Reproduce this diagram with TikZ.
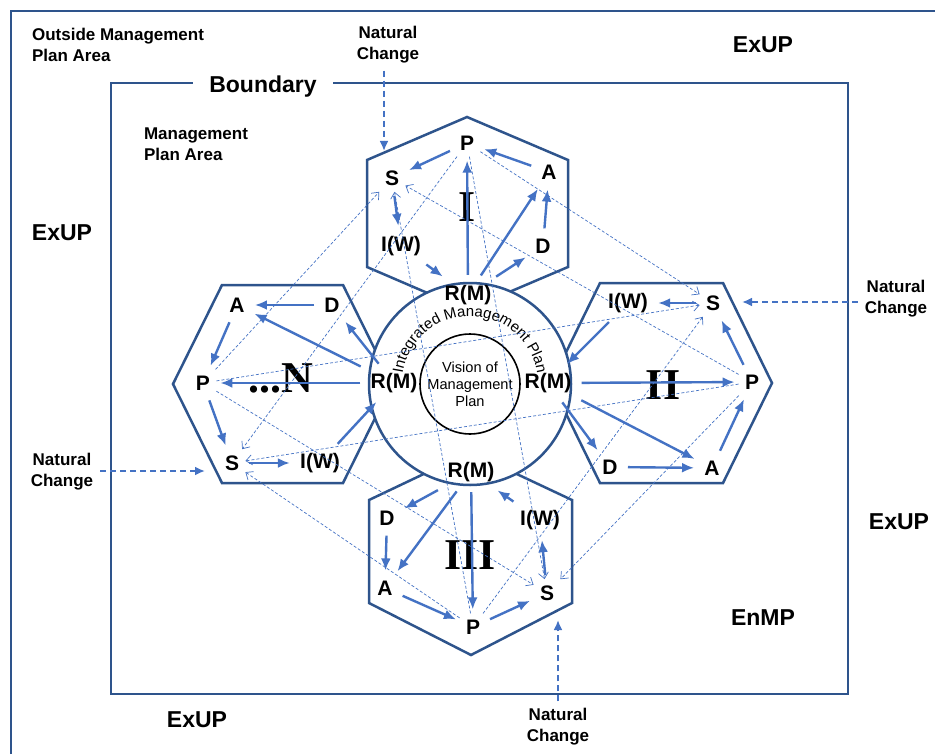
\documentclass[tikz,border=0pt]{standalone}
\usepackage{fontspec}
\setmainfont{Liberation Sans}
\newfontfamily\romfont{Liberation Serif}
\usetikzlibrary{arrows.meta,decorations.text}
\definecolor{hexblue}{RGB}{46,84,140}
\definecolor{arrowblue}{RGB}{68,114,196}
\tikzset{hexa/.style={draw=hexblue,line width=1.25pt,fill=white,line join=miter},
	flow/.style={->,>={Latex[length=6pt,width=5pt]},draw=arrowblue,line width=1.2pt,shorten >=2pt,shorten <=2pt},
	link/.style={->,>={Straight Barb[length=3pt,width=5pt]},draw=arrowblue,line width=0.35pt,dash pattern=on 1.5pt off 1pt}
}

\begin{document}
\begin{tikzpicture}[x=0.5pt,y=-0.5pt]
				\tikzstyle{lett} = [font=\fontsize{10.5}{12}\selectfont\bfseries, inner sep=3pt]
				\tikzstyle{roman} = [font=\romfont\fontsize{22}{22}\selectfont\bfseries, inner sep=1pt]
				\tikzstyle{lab} = [font=\fontsize{8.5}{10.5}\selectfont\bfseries, align=center]
				\tikzstyle{big} = [font=\fontsize{11.5}{13}\selectfont\bfseries]
				\tikzstyle{natural} = [->, >={Latex[length=5pt,width=4.5pt]}, draw=arrowblue, line width=1pt, dash pattern=on 3pt off 2pt]
				
				\useasboundingbox (0,0) rectangle (935,754);
				\draw [hexblue, line width=1pt] (11,754) -- (11,11) -- (935,11);
				
				\node[big, inner xsep=8pt] (bnd) at (263,87) {Boundary};
				\draw [hexblue, line width=1.1pt] (bnd.west |- 111,83) -| (111,694) -| (848,83) -- (bnd.east |- 848,83);
				
				\draw[hexa] (467,117) -- (568,160) -- (568,267) -- (467,310) -- (367,267) -- (367,160) -- cycle;
				\draw[hexa] (600,283) -- (723,283) -- (772,383) -- (723,483) -- (600,483) -- (551,383) -- cycle;
				\draw[hexa] (222,285) -- (343,285) -- (392,384) -- (343,483) -- (222,483) -- (173,384) -- cycle;
				\draw[hexa] (470,452) -- (572,500) -- (572,603) -- (471,655) -- (369,603) -- (369,500) -- cycle;
				
				\coordinate (C) at (470,384);
				\draw [hexblue, line width=1.25pt, fill=white] (C) circle[radius=50.5pt];
				\draw [black, line width=0.8pt] (C) circle[radius=25pt];
				\path [decorate, decoration={text along path, text={|\fontsize{7.5}{7.5}\selectfont|Integrated Management Plan}, text align=center}] (C) ++(190:34pt) arc[start angle=190, end angle=-10, radius=34pt];
				\node [font=\fontsize{7.3}{8.5}\selectfont, align=center] (vis) at (470,384) {Vision of\\Management\\Plan};
				
				\node[lett] (P1) at (467,143) {P};
				\node[lett] (S1) at (392,178) {S};
				\node[lett] (A1) at (549,172) {A};
				\node[lett] (IW1) at (401,246) {I(W)};
				\node[lett] (D1) at (543,246) {D};
				\node[lett] (RM1) at (468,295) {R(M)};
				\node[roman] (n1) at (467,207) {I};
				
				\node[lett] (IW2) at (628,303) {I(W)};
				\node[lett] (S2) at (713,303) {S};
				\node[lett] (P2) at (752,382) {P};
				\node[lett] (D2) at (610,467) {D};
				\node[lett] (A2) at (712,468) {A};
				\node[lett] (RM2) at (548,383) {R(M)};
				\node[roman] (n2) at (663,385) {II};
				
				\node[lett] (RM3) at (471,472) {R(M)};
				\node[lett] (D3) at (387,518) {D};
				\node[lett] (IW3) at (540,520) {I(W)};
				\node[lett] (A3) at (385,588) {A};
				\node[lett] (S3) at (547,593) {S};
				\node[lett] (P3) at (473,627) {P};
				\node[roman] (n3) at (470,555) {III};
				
				\node[lett] (An) at (237,305) {A};
				\node[lett] (Dn) at (332,305) {D};
				\node[lett] (Pn) at (203,383) {P};
				\node[lett] (Sn) at (232,463) {S};
				\node[lett] (IWn) at (320,463) {I(W)};
				\node[lett] (RMn) at (394,383) {R(M)};
				\node[roman] (nn) at (281,378) {...N};
				
				\node[lab, align=left, anchor=west] (outside) at (25,45) {Outside Management\\Plan Area};
				\node[lab] (ncTop) at (388,45) {Natural\\Change};
				\node[big] (ex1) at (763,45) {ExUP};
				\node[lab, align=left, anchor=west] (mpa) at (137,144) {Management\\Plan Area};
				\node[big] (ex2) at (62,233) {ExUP};
				\node[lab] (ncRight) at (896,299) {Natural\\Change};
				\node[lab] (ncLeft) at (62,472) {Natural\\Change};
				\node[big] (ex3) at (899,522) {ExUP};
				\node[big] (enmp) at (763,618) {EnMP};
				\node[big] (ex4) at (197,720) {ExUP};
				\node[lab] (ncBot) at (558,727) {Natural\\Change};
				
				\coordinate (hitTop) at (384,151);
				\draw[natural] (ncTop.south -| hitTop) -- (hitTop);
				\coordinate (hitRight) at (742,302);
				\draw[natural] (ncRight.west |- hitRight) -- (hitRight);
				\coordinate (hitLeft) at (205,471);
				\draw[natural] (ncLeft.east |- hitLeft) -- (hitLeft);
				\coordinate (hitBot) at (558,620);
				\draw[natural] (ncBot.north) -- (hitBot);
				
				\draw[link] (P1) -- (S2);
				\draw[link] (P1) -- (S3);
				\draw[link] (P1) -- (Sn);
				\draw[link] (P2) -- (S1);
				\draw[link] (P2) -- (S3);
				\draw[link] (P2) -- (Sn);
				\draw[link] (P3) -- (S1);
				\draw[link] (P3) -- (S2);
				\draw[link] (P3) -- (Sn);
				\draw[link] (Pn) -- (S1);
				\draw[link] (Pn) -- (S2);
				\draw[link] (Pn) -- (S3);
				
				\draw[flow] (P1) -- (S1);
				\draw[flow] (A1) -- (P1);
				\draw[flow] (D1) -- (A1);
				\draw[flow] (S1) -- (IW1);
				\draw[flow] (IW1) -- (RM1);
				\draw[flow] (RM1) -- (P1);
				\draw[flow] (RM1) -- (A1);
				\draw[flow] (RM1) -- (D1);
				
				\draw[flow] (S2) -- (IW2);
				\draw[flow] (IW2) -- (RM2);
				\draw[flow] (P2) -- (S2);
				\draw[flow] (A2) -- (P2);
				\draw[flow] (D2) -- (A2);
				\draw[flow] (RM2) -- (D2);
				\draw[flow] (RM2) -- (A2);
				\draw[flow] (RM2) -- (P2);
				
				\draw[flow] (IW3) -- (RM3);
				\draw[flow] (RM3) -- (D3);
				\draw[flow] (RM3) -- (A3);
				\draw[flow] (RM3) -- (P3);
				\draw[flow] (D3) -- (A3);
				\draw[flow] (A3) -- (P3);
				\draw[flow] (P3) -- (S3);
				\draw[flow] (S3) -- (IW3);
				
				\draw[flow] (Dn) -- (An);
				\draw[flow] (An) -- (Pn);
				\draw[flow] (Pn) -- (Sn);
				\draw[flow] (Sn) -- (IWn);
				\draw[flow] (IWn) -- (RMn);
				\draw[flow] (RMn) -- (Dn);
				\draw[flow] (RMn) -- (An);
				\draw[flow] (RMn) -- (Pn);
				
			\end{tikzpicture}
\end{document}
